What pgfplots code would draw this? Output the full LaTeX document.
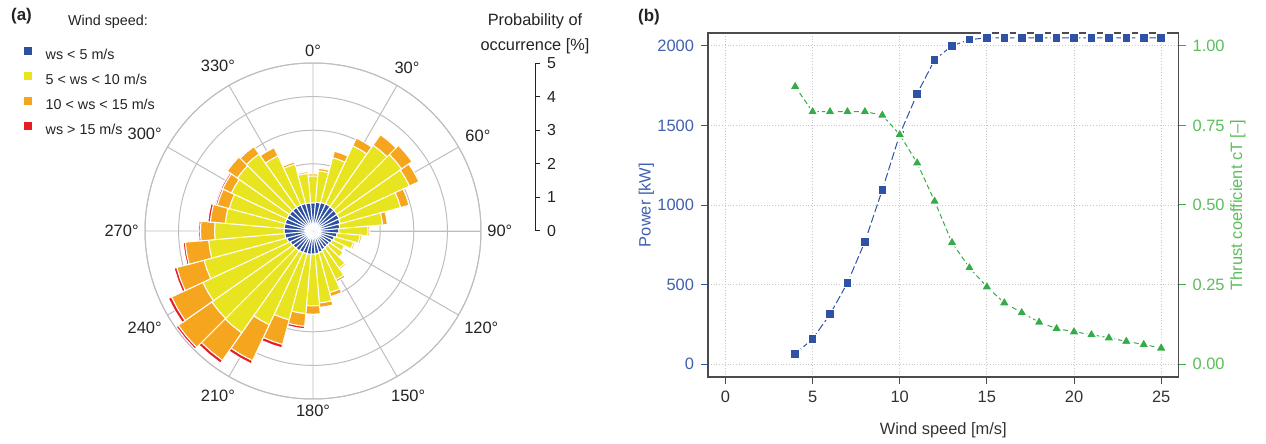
\documentclass[border=0pt]{standalone}
\usepackage{fontspec}
\setmainfont{Liberation Sans}
\usepackage{pgfplots}
\usepackage{pgfplotstable}
\usepgfplotslibrary{polar}
\pgfplotsset{compat=1.18}

\definecolor{wsblue}{RGB}{46,80,160}
\definecolor{wsyellow}{RGB}{232,228,32}
\definecolor{wsorange}{RGB}{246,166,30}
\definecolor{wsred}{RGB}{228,30,36}
\definecolor{pblue}{RGB}{48,82,164}
\definecolor{pbluetxt}{RGB}{64,96,176}
\definecolor{tgreen}{RGB}{52,172,72}
\definecolor{tgreentxt}{RGB}{90,190,90}
\definecolor{gridgray}{RGB}{200,200,200}
\definecolor{rosegrid}{RGB}{190,190,190}
\definecolor{txt}{RGB}{35,35,35}

% wind rose: probability of occurrence [%] per 10 deg sector and speed class
\pgfplotstableread{
dir b y o r
0 0.84 0.80 0.06 0.00
10 0.86 0.94 0.07 0.00
20 0.88 1.38 0.20 0.00
30 0.89 1.91 0.25 0.00
40 0.88 2.24 0.38 0.00
50 0.87 2.35 0.38 0.00
60 0.86 2.31 0.31 0.00
70 0.84 1.86 0.26 0.00
80 0.80 1.28 0.14 0.00
90 0.77 0.87 0.05 0.00
100 0.72 0.68 0.05 0.00
110 0.66 0.59 0.05 0.00
120 0.63 0.41 0.04 0.00
130 0.60 0.50 0.03 0.00
140 0.60 0.75 0.05 0.00
150 0.62 0.98 0.07 0.00
160 0.66 1.24 0.12 0.00
170 0.68 1.47 0.13 0.00
180 0.69 1.54 0.25 0.01
190 0.70 1.77 0.38 0.07
200 0.70 2.04 0.76 0.10
210 0.71 2.37 1.18 0.10
220 0.72 2.98 1.00 0.10
230 0.73 2.95 1.22 0.07
240 0.75 2.87 1.03 0.10
250 0.80 2.56 0.84 0.08
260 0.84 2.28 0.70 0.06
270 0.86 2.07 0.42 0.05
280 0.86 1.76 0.45 0.07
290 0.86 1.72 0.37 0.05
300 0.86 1.82 0.29 0.05
310 0.86 1.89 0.37 0.03
320 0.86 1.94 0.27 0.02
330 0.86 1.61 0.27 0.01
340 0.85 1.21 0.07 0.01
350 0.84 0.88 0.05 0.00
}\rosedata

\pgfplotstableread{
ws P
4 65
5 159
6 314
7 511
8 769
9 1095
10 1443
11 1698
12 1912
13 2000
14 2038
15 2050
16 2050
17 2050
18 2050
19 2050
20 2050
21 2050
22 2050
23 2050
24 2050
25 2050
}\powerdata

\pgfplotstableread{
ws cT
4 0.872
5 0.793
6 0.793
7 0.793
8 0.793
9 0.782
10 0.721
11 0.632
12 0.512
13 0.382
14 0.303
15 0.243
16 0.193
17 0.162
18 0.132
19 0.112
20 0.102
21 0.093
22 0.083
23 0.072
24 0.062
25 0.051
}\ctdata

\newcommand\rosewedge[3]{%
  \edef\tmp{\noexpand\addplot[fill=#1, draw=white, line width=0.5bp] coordinates {(\ta,#2) (\ta,#3) (\tm,#3) (\tb,#3) (\tb,#2) (\tm,#2)} -- cycle;}%
  \tmp}

\begin{document}
\begin{tikzpicture}
\useasboundingbox (0,0) rectangle (633bp,222bp);

% ---------------- (a) wind rose ----------------
\begin{polaraxis}[
  at={(156.5bp,106.5bp)}, anchor=center,
  scale only axis, width=168bp, height=168bp,
  xmin=0, xmax=360, ymin=0, ymax=5,
  xtick={0,30,...,330},
  xticklabels={90°,60°,30°,0°,330°,300°,270°,240°,210°,180°,150°,120°},
  ytick={1,2,3,4,5}, yticklabels={},
  grid=major,
  major grid style={draw=rosegrid, line width=0.5bp},
  axis line style={draw=rosegrid, line width=0.5bp},
  major tick length=0pt,
  xticklabel style={font=\fontsize{8.25}{9}\selectfont, text=txt, inner sep=3bp},
  legend cell align=left,
  legend style={at={(axis description cs:-0.362,1.05)}, anchor=north west,
    draw=none, fill=none, inner sep=0pt, row sep=4.5bp,
    font=\fontsize{7.2}{8}\selectfont, text=txt,
    nodes={inner sep=0pt, text height=5.5bp, text depth=1.5bp}},
]
\addlegendimage{legend image code/.code={\fill[wsblue] (0bp,0.85bp) rectangle (3.5bp,4.35bp); \path[draw=none, fill=none] (0bp,0bp) -- (10.75bp,0bp);}}
\addlegendentry{ws < 5 m/s}
\addlegendimage{legend image code/.code={\fill[wsyellow] (0bp,0.85bp) rectangle (3.5bp,4.35bp); \path[draw=none, fill=none] (0bp,0bp) -- (10.75bp,0bp);}}
\addlegendentry{5 < ws < 10 m/s}
\addlegendimage{legend image code/.code={\fill[wsorange] (0bp,0.85bp) rectangle (3.5bp,4.35bp); \path[draw=none, fill=none] (0bp,0bp) -- (10.75bp,0bp);}}
\addlegendentry{10 < ws < 15 m/s}
\addlegendimage{legend image code/.code={\fill[wsred] (0bp,0.85bp) rectangle (3.5bp,4.35bp); \path[draw=none, fill=none] (0bp,0bp) -- (10.75bp,0bp);}}
\addlegendentry{ws > 15 m/s}

\pgfplotsinvokeforeach{0,...,35}{%
  \pgfplotstablegetelem{#1}{dir}\of\rosedata \let\cdir\pgfplotsretval
  \pgfplotstablegetelem{#1}{b}\of\rosedata \let\vb\pgfplotsretval
  \pgfplotstablegetelem{#1}{y}\of\rosedata \let\vy\pgfplotsretval
  \pgfplotstablegetelem{#1}{o}\of\rosedata \let\vo\pgfplotsretval
  \pgfplotstablegetelem{#1}{r}\of\rosedata \let\vr\pgfplotsretval
  \pgfmathsetmacro\rA{\vb}%
  \pgfmathsetmacro\rB{\vb+\vy}%
  \pgfmathsetmacro\rC{\rB+\vo}%
  \pgfmathsetmacro\rD{\rC+\vr}%
  \pgfmathsetmacro\tm{90-\cdir}%
  \pgfmathsetmacro\ta{\tm-5}%
  \pgfmathsetmacro\tb{\tm+5}%
  \rosewedge{wsblue}{0}{\rA}%
  \rosewedge{wsyellow}{\rA}{\rB}%
  \ifdim\vo pt>0pt \rosewedge{wsorange}{\rB}{\rC}\fi
  \ifdim\vr pt>0pt \rosewedge{wsred}{\rC}{\rD}\fi
}
\end{polaraxis}

% radial scale
\begin{axis}[
  at={(267.5bp,106.5bp)}, anchor=south east,
  scale only axis, width=10bp, height=84bp,
  xmin=0, xmax=1, ymin=0, ymax=5,
  hide x axis, axis y line*=right,
  ytick={0,1,2,3,4,5}, tick align=outside, major tick length=2.5bp,
  ytick style={draw=txt, line width=0.5bp},
  y axis line style={draw=txt, line width=0.5bp},
  yticklabel style={font=\fontsize{8}{9}\selectfont, text=txt},
  /pgf/number format/assume math mode=true,
]
\end{axis}
\node[align=center, font=\fontsize{8.2}{12.5}\selectfont, text=txt] at (267.5bp,205bp) {Probability of\\occurrence [\%]};

\node[font=\fontsize{7.2}{8}\selectfont, text=txt] at (54bp,211bp) {Wind speed:};
\node[font=\bfseries\fontsize{8.5}{10}\selectfont, text=txt] at (10.75bp,214bp) {(a)};

% ---------------- (b) power curve ----------------
\begin{axis}[
  at={(354bp,33.5bp)}, anchor=south west,
  scale only axis, width=235.3bp, height=172bp,
  xmin=-1, xmax=26, ymin=-80, ymax=2080,
  xtick={0,5,10,15,20,25}, ytick={0,500,1000,1500,2000},
  xtick pos=bottom, ytick pos=left, tick align=outside, major tick length=3.5bp,
  grid=major, major grid style={densely dotted, gridgray, line width=0.5bp},
  axis line style={draw=black!70, line width=0.6bp},
  xtick style={draw=black!70, line width=0.5bp},
  ytick style={draw=pblue, line width=0.5bp},
  tick label style={font=\fontsize{8.25}{9}\selectfont},
  xticklabel style={text=black!80},
  yticklabel style={text=pbluetxt},
  /pgf/number format/assume math mode=true,
  /pgf/number format/set thousands separator={},
  xlabel={Wind speed [m/s]}, ylabel={Power [kW]},
  xlabel style={font=\fontsize{8.25}{9}\selectfont, text=black!80, at={(axis description cs:0.5,-0.154)}, anchor=center},
  ylabel style={font=\fontsize{8.25}{9}\selectfont, text=pbluetxt, at={(axis description cs:-0.131,0.5)}, anchor=center},
]
\addplot[color=pblue, line width=0.5bp, dash pattern=on 4bp off 1.5bp,
  mark=square*, mark size=2.3bp, mark options={solid, fill=pblue, draw=white, line width=0.8bp}]
  table[x=ws, y=P] {\powerdata};
\end{axis}

\begin{axis}[
  at={(354bp,33.5bp)}, anchor=south west,
  scale only axis, width=235.3bp, height=172bp,
  xmin=-1, xmax=26, ymin=-0.04, ymax=1.04,
  hide x axis, axis y line*=right,
  ytick={0,0.25,0.5,0.75,1}, ytick pos=right,
  tick align=outside, major tick length=3.5bp,
  ytick style={draw=tgreen, line width=0.5bp},
  y axis line style={draw=black!70, line width=0.6bp},
  tick label style={font=\fontsize{8.25}{9}\selectfont},
  yticklabel style={text=tgreentxt},
  /pgf/number format/assume math mode=true,
  /pgf/number format/fixed, /pgf/number format/fixed zerofill, /pgf/number format/precision=2,
  ylabel={Thrust coefficient cT [–]},
  ylabel style={font=\fontsize{8.25}{9}\selectfont, text=tgreentxt, at={(axis description cs:1.126,0.5)}, anchor=center},
]
\addplot[color=tgreen, line width=0.5bp, dash pattern=on 2.5bp off 1.5bp,
  mark=triangle*, mark size=3.3bp, mark options={solid, fill=tgreen, draw=white, line width=0.8bp}]
  table[x=ws, y=cT] {\ctdata};
\end{axis}

\node[font=\bfseries\fontsize{8.5}{10}\selectfont, text=txt] at (324.5bp,213.25bp) {(b)};
\end{tikzpicture}
\end{document}
